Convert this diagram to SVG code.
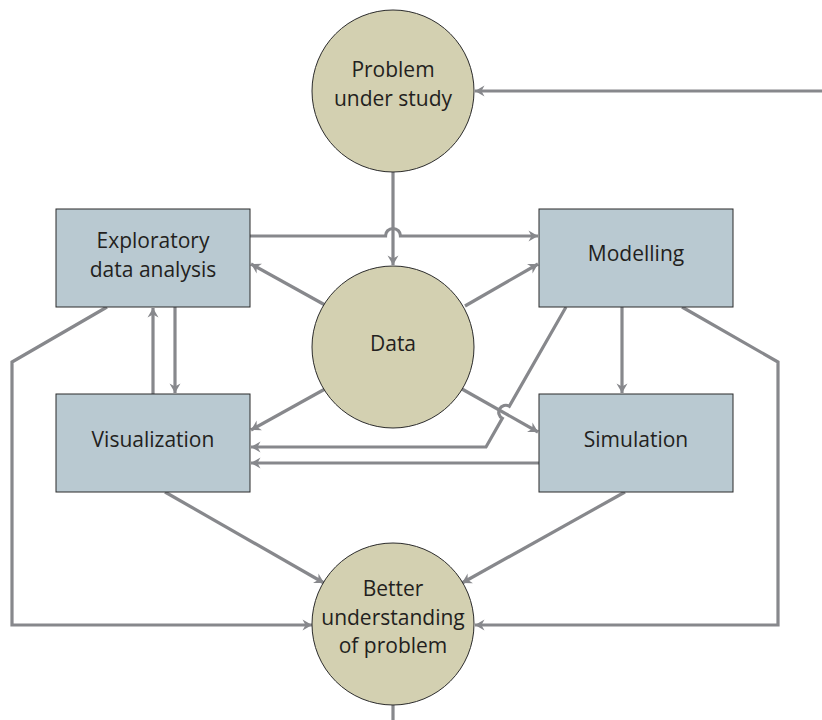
<svg xmlns="http://www.w3.org/2000/svg" width="822" height="720" viewBox="0 0 822 720">
<style>
.box{fill:#b9c9d1;stroke:#2b2b2b;stroke-width:1}
.circ{fill:#d3d0b1;stroke:#2b2b2b;stroke-width:1}
.lbl{font-family:"Open Sans","Noto Sans",sans-serif;font-size:21px;fill:#231f20;text-anchor:middle}
.c{fill:none;stroke:#87888c;stroke-width:3.2;stroke-linejoin:miter}
.a{marker-end:url(#arr)}
</style>
<defs>
<marker id="arr" markerUnits="userSpaceOnUse" markerWidth="14" markerHeight="14" viewBox="-11 -7 14 14" refX="0" refY="0" orient="auto">
<path d="M0,0 L-9.5,-5.5 L-6.5,0 L-9.5,5.5 Z" fill="#87888c"/>
</marker>
</defs>
<rect width="822" height="720" fill="#ffffff"/>
<g id="connectors">
<path class="c a" d="M822,91 H475"/>
<path class="c a" d="M393,172 V265"/>
<path class="c a" d="M250,236 H385.5 A7.5,7.5 0 0 1 400.5,236 H538"/>
<path class="c a" d="M325,305 L251,264"/>
<path class="c a" d="M465,306 L538,264"/>
<path class="c a" d="M153,394 V308"/>
<path class="c a" d="M175,307 V393"/>
<path class="c a" d="M107,307 L12,362 V625 H312"/>
<path class="c a" d="M682,307 L778,362 V625 H475"/>
<path class="c a" d="M622,307 V393"/>
<path class="c a" d="M566,307 L509.3,406.2 A7,7 0 0 0 502.3,418.4 L486,447 H251"/>
<path class="c a" d="M539,463 H251"/>
<path class="c a" d="M325,389 L251,430"/>
<path class="c a" d="M462,389 L538,432"/>
<path class="c a" d="M165,492 L324,583"/>
<path class="c a" d="M625,492 L462,583"/>
<path class="c" d="M393,705 V720"/>
</g>
<g id="problem">
<circle class="circ" cx="393" cy="91" r="81"/>
<text class="lbl" x="393" y="77">Problem</text>
<text class="lbl" x="393" y="106">under study</text>
</g>
<g id="data">
<circle class="circ" cx="393" cy="347" r="81"/>
<text class="lbl" x="393" y="351">Data</text>
</g>
<g id="better">
<circle class="circ" cx="393" cy="624" r="81"/>
<text class="lbl" x="393" y="596">Better</text>
<text class="lbl" x="393" y="625">understanding</text>
<text class="lbl" x="393" y="653">of problem</text>
</g>
<g id="eda">
<rect class="box" x="56" y="209" width="194" height="98"/>
<text class="lbl" x="153" y="248">Exploratory</text>
<text class="lbl" x="153" y="277">data analysis</text>
</g>
<g id="modelling">
<rect class="box" x="539" y="209" width="194" height="98"/>
<text class="lbl" x="636" y="261">Modelling</text>
</g>
<g id="visualization">
<rect class="box" x="56" y="394" width="194" height="98"/>
<text class="lbl" x="153" y="447">Visualization</text>
</g>
<g id="simulation">
<rect class="box" x="539" y="394" width="194" height="98"/>
<text class="lbl" x="636" y="447">Simulation</text>
</g>
</svg>
